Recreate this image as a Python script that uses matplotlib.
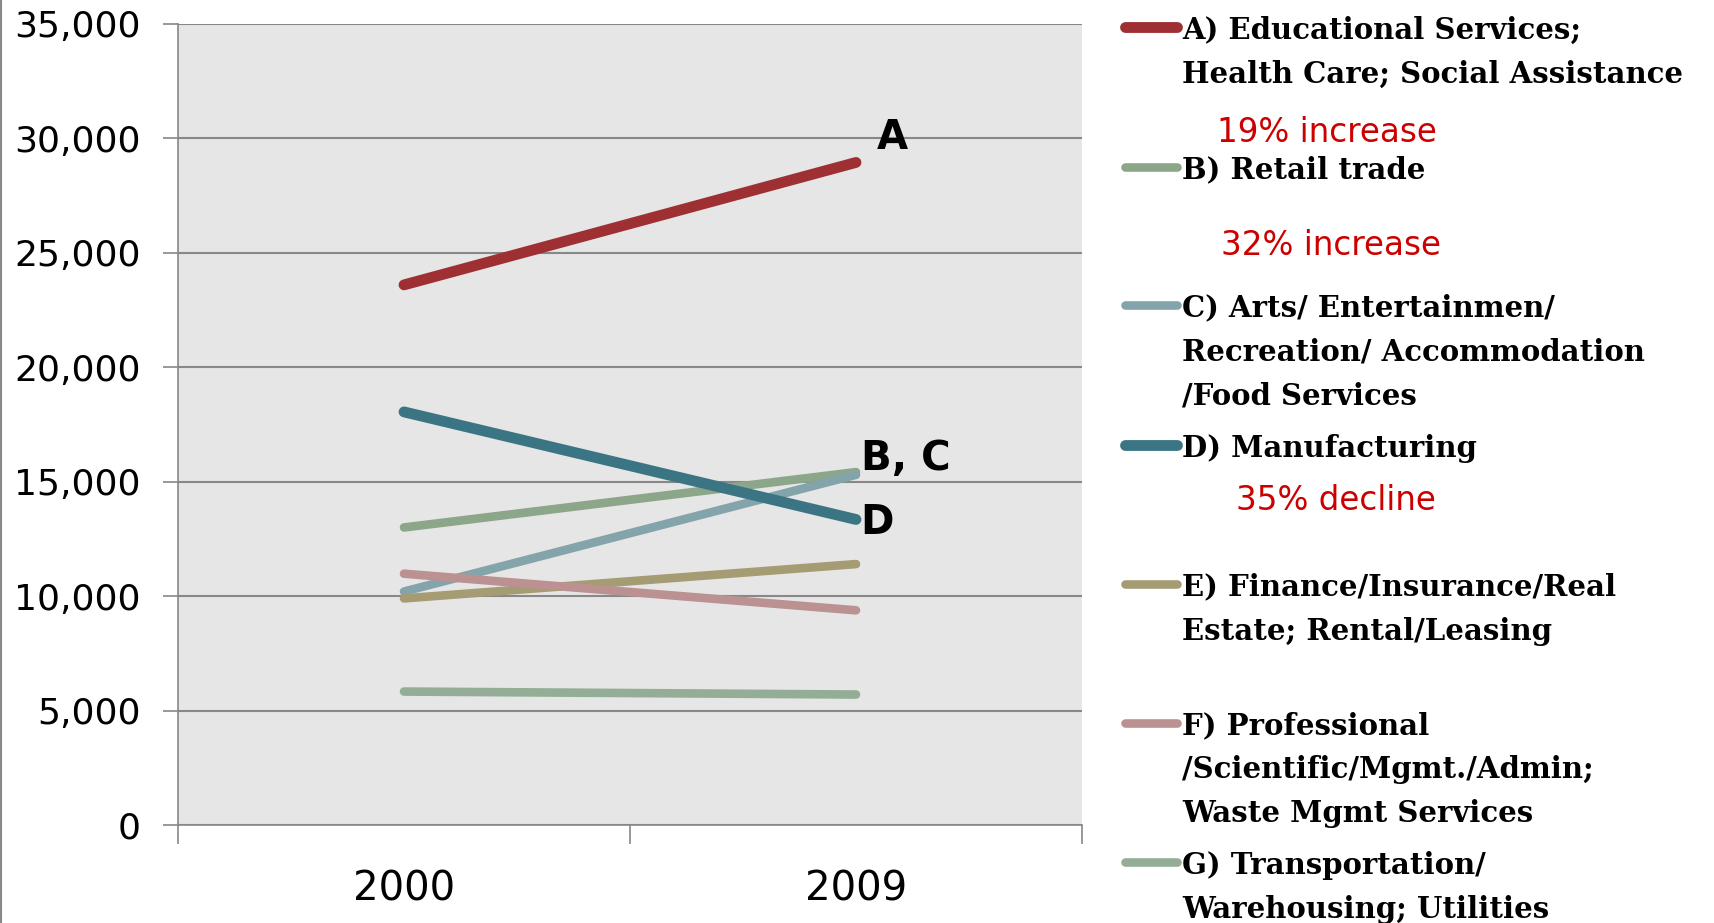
import numpy as np
import matplotlib.pyplot as plt
from matplotlib.lines import Line2D

# =========================
# Data
# =========================
years = ["2000", "2009"]

labels = [
    "A) Educational Services;\nHealth Care; Social Assistance",
    "B) Retail trade",
    "C) Arts/ Entertainmen/\nRecreation/ Accommodation\n/Food Services",
    "D) Manufacturing",
    "E) Finance/Insurance/Real\nEstate; Rental/Leasing",
    "F) Professional\n/Scientific/Mgmt./Admin;\nWaste Mgmt Services",
    "G) Transportation/\nWarehousing; Utilities",
]
vals_2000 = [23600, 13000, 10200, 18050, 9900, 10980, 5830]
vals_2009 = [28950, 15420, 15300, 13350, 11400, 9380, 5700]

colors = ["#9E3033", "#8CA68A", "#84A4AB", "#3B7583", "#A59C74", "#BB9191", "#93AD96"]
widths = [7.8, 6.2, 6.2, 7.8, 6.2, 6.2, 6.2]
zorders = [6, 2, 3, 6, 4, 5, 2]

end_labels = ["A", "B, C", "D"]
end_label_y = [30000, 16000, 13200]

notes = ["19% increase", "32% increase", "35% decline"]

# =========================
# Plot
# =========================
fig = plt.figure(figsize=(17.15, 9.23), dpi=100)
ax = fig.add_axes([0.1038, 0.1062, 0.5271, 0.8678])
ax.set_facecolor("#E6E6E6")

x = np.arange(len(years))
for i in range(len(labels)):
    ax.plot(x, [vals_2000[i], vals_2009[i]], color=colors[i], lw=widths[i],
            solid_capstyle="round", zorder=zorders[i])

ax.set_xlim(-0.5, 1.5)
ax.set_ylim(0, 35000)
ax.set_yticks(np.arange(0, 35001, 5000))
ax.set_yticklabels([f"{v:,}" for v in range(0, 35001, 5000)], fontsize=26)
ax.set_xticks(x)
ax.set_xticklabels(years, fontsize=29)
ax.set_xticks([-0.5, 0.5, 1.5], minor=True)
ax.tick_params(axis="x", which="major", length=0, pad=32)
ax.tick_params(axis="x", which="minor", length=14, width=1.2, color="#888888")
ax.tick_params(axis="y", length=11, width=1.2, color="#888888", pad=16)
ax.grid(axis="y", color="#888888", lw=1.5, zorder=1)
ax.set_axisbelow(True)
for s in ["top", "right"]:
    ax.spines[s].set_visible(False)
for s in ["left", "bottom"]:
    ax.spines[s].set_color("#888888")
    ax.spines[s].set_linewidth(1.2)

# end-of-line letters
ax.text(1.045, end_label_y[0], end_labels[0], fontsize=29, fontweight="bold", va="center")
ax.text(1.01, end_label_y[1], end_labels[1], fontsize=29, fontweight="bold", va="center")
ax.text(1.01, end_label_y[2], end_labels[2], fontsize=29, fontweight="bold", va="center")

# left edge border
fig.add_artist(Line2D([0.0008, 0.0008], [0, 1], color="#888888", lw=1.5))

# =========================
# Hand-made legend
# =========================
entry_y = [27, 167, 305, 445, 584, 723, 862]   # pixel y of first line
line_gap = 44
for i, lab in enumerate(labels):
    yf = 1 - entry_y[i] / 923
    fig.add_artist(Line2D([1125 / 1715, 1177 / 1715], [yf, yf], color=colors[i],
                          lw=widths[i], solid_capstyle="round"))
    for j, part in enumerate(lab.split("\n")):
        fig.text(1182 / 1715, 1 - (entry_y[i] + 3 + j * line_gap) / 923, part,
                 fontsize=21, family="DejaVu Serif", fontweight="bold",
                 va="center", ha="left")

note_pos = [(1217, 132), (1221, 245), (1236, 500)]
for t, (px, py) in zip(notes, note_pos):
    fig.text(px / 1715, 1 - py / 923, t, fontsize=23.5, color="#CC0000",
             va="center", ha="left")

fig.savefig("out.png", dpi=100)
print("Saved: out.png")
